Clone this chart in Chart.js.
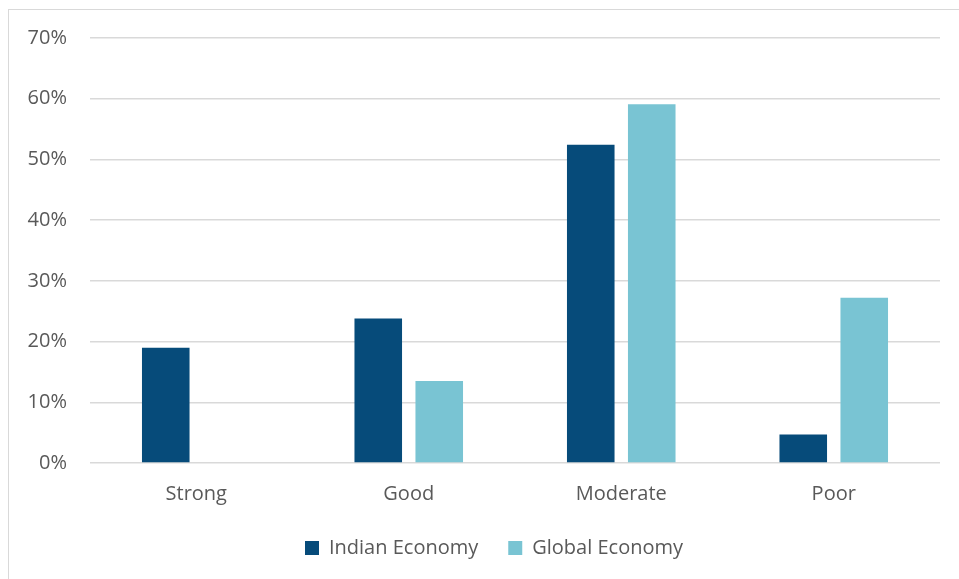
<!DOCTYPE html>
<html lang="en">
<head>
    <meta charset="UTF-8">
    <title>Economy outlook</title>
    <style>
        html, body {
            margin: 0;
            padding: 0;
            background: #fff;
            overflow: hidden;
        }
        .frame {
            position: absolute;
            left: 8px;
            top: 9px;
            width: 951px;
            height: 570px;
            border-top: 1px solid #d9d9d9;
            border-left: 1px solid #d9d9d9;
        }
        .chart-box {
            position: absolute;
            left: 0;
            top: 0;
            width: 959px;
            height: 579px;
        }
    </style>
    <script src="https://cdn.jsdelivr.net/npm/chart.js"></script>
</head>
<body>
    <div class="frame"></div>
    <div class="chart-box">
        <canvas id="outlook" width="959" height="579"></canvas>
    </div>

    <script>
        // categories and shares (percent)
        const categories = ['Strong', 'Good', 'Moderate', 'Poor'];
        const indianEconomy = [19.0, 23.8, 52.4, 4.7];
        const globalEconomy = [0, 13.5, 59.1, 27.2];
        const yTicks = [0, 10, 20, 30, 40, 50, 60, 70];

        const textColor = '#595959';
        const fontFamily = "'Open Sans', sans-serif";

        // nudge the legend a bit to the right so it sits under the plot, not the whole canvas
        const legendShift = {
            id: 'legendShift',
            afterLayout(chart) {
                const lg = chart.legend;
                if (!lg) return;
                lg.left += 24;
                lg.right += 24;
            }
        };

        const ctx = document.getElementById('outlook').getContext('2d');
        new Chart(ctx, {
            type: 'bar',
            data: {
                labels: categories,
                datasets: [
                    {
                        label: 'Indian Economy',
                        data: indianEconomy,
                        backgroundColor: '#064b7a'
                    },
                    {
                        label: 'Global Economy',
                        data: globalEconomy,
                        backgroundColor: '#79c4d3'
                    }
                ]
            },
            options: {
                responsive: false,
                animation: false,
                layout: {
                    padding: { left: 0, right: 19, top: 38, bottom: 11 }
                },
                datasets: {
                    bar: {
                        categoryPercentage: 0.574,
                        barPercentage: 0.78
                    }
                },
                scales: {
                    x: {
                        grid: { display: false, drawTicks: false },
                        border: { display: false },
                        ticks: {
                            color: textColor,
                            padding: 19,
                            font: { family: fontFamily, size: 20 }
                        },
                        afterFit: scale => { scale.height = 45; }
                    },
                    y: {
                        min: 0,
                        max: 70,
                        afterBuildTicks: scale => {
                            scale.ticks = yTicks.map(v => ({ value: v }));
                        },
                        grid: {
                            color: '#d9d9d9',
                            lineWidth: 1.5,
                            drawTicks: false
                        },
                        border: { display: false },
                        ticks: {
                            color: textColor,
                            padding: 23,
                            font: { family: fontFamily, size: 20 },
                            callback: v => v + '%'
                        },
                        afterFit: scale => { scale.width = 90; }
                    }
                },
                plugins: {
                    legend: {
                        position: 'bottom',
                        labels: {
                            color: textColor,
                            boxWidth: 14,
                            boxHeight: 14,
                            padding: 30,
                            font: { family: fontFamily, size: 20 }
                        }
                    },
                    tooltip: { enabled: false }
                }
            },
            plugins: [legendShift]
        });
    </script>
</body>
</html>
